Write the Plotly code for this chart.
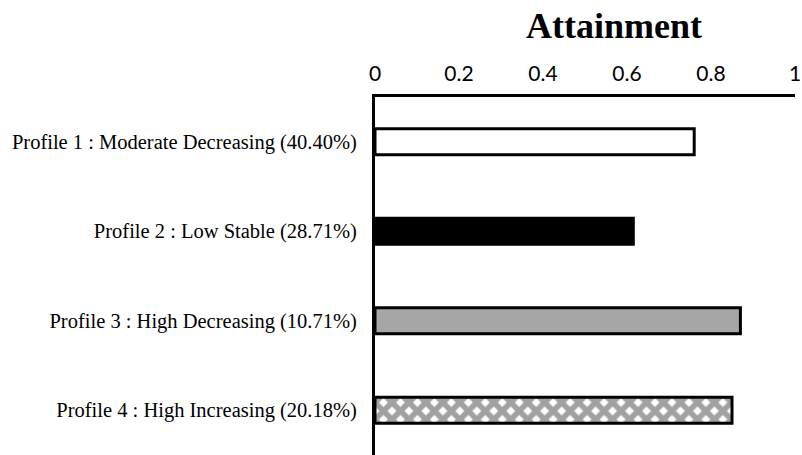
import plotly.graph_objects as go

categories = [
    "Profile 1 : Moderate Decreasing (40.40%)",
    "Profile 2 : Low Stable (28.71%)",
    "Profile 3 : High Decreasing (10.71%)",
    "Profile 4 : High Increasing (20.18%)",
]
attainment = [0.76, 0.615, 0.87, 0.85]
tick_vals = [0, 0.2, 0.4, 0.6, 0.8, 1]
tick_text = ["0", "0.2", "0.4", "0.6", "0.8", "1"]

fill_colors = ["white", "black", "#a6a6a6", "white"]
pattern_shapes = ["", "", "", "x"]

fig = go.Figure(
    go.Bar(
        x=attainment,
        y=categories,
        orientation="h",
        width=0.29,
        marker=dict(
            color=fill_colors,
            line=dict(color="black", width=3),
            pattern=dict(shape=pattern_shapes, fgcolor="black", size=12, solidity=0.72),
        ),
        showlegend=False,
    )
)

fig.update_layout(
    width=802,
    height=455,
    margin=dict(l=375, r=7, t=97, b=0),
    paper_bgcolor="white",
    plot_bgcolor="white",
    title=dict(
        text="<b>Attainment</b>",
        font=dict(family="Liberation Serif", size=36, color="black"),
        xref="container", yref="container",
        x=614 / 802, xanchor="center",
        y=1 - 25 / 455, yanchor="middle",
    ),
    xaxis=dict(
        range=[0, 1],
        side="top",
        tickvals=tick_vals,
        ticktext=tick_text,
        showgrid=False,
        zeroline=False,
        showline=True,
        linecolor="black",
        linewidth=3,
        ticks="",
        ticklabelstandoff=5,
        tickfont=dict(family="Lato", size=21, color="black"),
        automargin=False,
    ),
    yaxis=dict(
        autorange="reversed",
        showgrid=False,
        zeroline=False,
        showline=True,
        linecolor="black",
        linewidth=3,
        ticks="",
        ticklabelstandoff=11,
        tickfont=dict(family="Liberation Serif", size=20.5, color="black"),
        automargin=False,
    ),
)

fig.write_html(
    "out.html",
    config={"displayModeBar": False},
    post_script="document.body.style.margin='0px';",
)
